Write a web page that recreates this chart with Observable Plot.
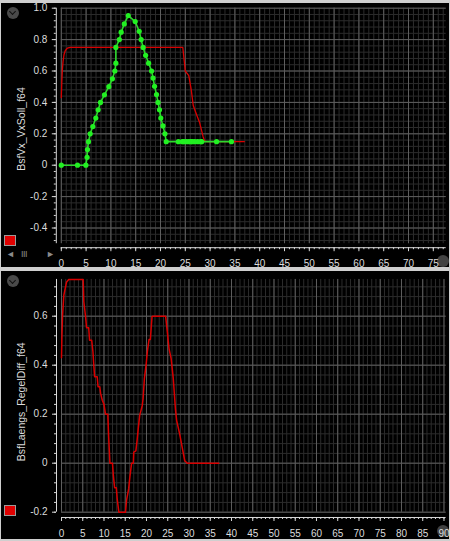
<!DOCTYPE html>
<html>
<head>
<meta charset="utf-8">
<script src="https://cdn.jsdelivr.net/npm/d3@7"></script>
<script src="https://cdn.jsdelivr.net/npm/@observablehq/plot@0.6"></script>
<style>
  html, body { margin: 0; padding: 0; background: #d0d0d0; }
  #root { position: relative; width: 450px; height: 541px; background: #cfcfcf; overflow: hidden; font-family: "Liberation Sans", Arial, sans-serif; }
  .panel { position: absolute; left: 1px; width: 448px; background: #000; }
  .panel svg { display: block; position: relative; z-index: 1; }
  .icon { position: absolute; width: 12px; height: 12px; border-radius: 50%; background: #4a4a4a; z-index: 2; }
  .icon::after { content: ""; position: absolute; left: 3.5px; top: 2.5px; width: 4px; height: 4px; border-right: 1.6px solid #111; border-bottom: 1.6px solid #111; transform: rotate(45deg); }
  .cicon { position: absolute; width: 12px; height: 12px; border-radius: 50%; background: rgba(110,110,110,0.6); z-index: 0; }
  .swatch { position: absolute; left: 4px; width: 10px; height: 9px; background: #e00000; border: 1px solid #9a9a9a; z-index: 2; }
  .scroll { position: absolute; top: 249px; font-size: 9px; color: #8a8a8a; z-index: 2; }
</style>
</head>
<body>
<div id="root">
  <div class="panel" id="p1" style="top:3px;height:264px;"></div>
  <div class="panel" id="p2" style="top:271px;height:268px;"></div>
</div>
<script>
// ---------- Top chart data ----------
const topLabel = "BsfVx_VxSoll_f64";
const topXDomain = [0, 77.6];
const topYDomain = [-0.5, 1.0];
const topXTicks = [0,5,10,15,20,25,30,35,40,45,50,55,60,65,70,75];
const topYTicks = [-0.4,-0.2,0,0.2,0.4,0.6,0.8,1.0];

const topRedX = [0,0.1,0.2,0.35,0.55,0.8,1.2,1.8,24.5,25.0,25.7,26.2,26.6,27.3,27.9,28.6,28.9,29.3,36.9];
const topRedY = [0.43,0.53,0.6,0.66,0.705,0.73,0.745,0.75,0.75,0.60,0.57,0.48,0.38,0.32,0.27,0.18,0.155,0.15,0.15];

const greenX = [0,3.27,4.95,5.2,5.28,5.48,5.82,6.36,6.96,7.43,7.9,8.7,9.58,10.3,10.8,11.0,11.0,11.7,12.07,12.7,13.5,14.9,15.7,16.1,16.5,17.0,17.6,18.2,18.5,18.8,19.2,19.5,19.8,20.06,20.5,20.9,21.15,23.6,24.4,24.7,25.2,25.7,26.1,26.4,26.9,27.5,28.1,28.3,31.3,34.3];
const greenY = [0,0,0,0.05,0.1,0.15,0.2,0.246,0.30,0.353,0.40,0.448,0.50,0.55,0.60,0.65,0.75,0.80,0.847,0.90,0.953,0.915,0.853,0.80,0.75,0.70,0.65,0.60,0.555,0.503,0.45,0.40,0.353,0.30,0.25,0.20,0.15,0.15,0.15,0.15,0.15,0.15,0.15,0.15,0.15,0.15,0.15,0.15,0.15,0.15];

// ---------- Bottom chart data ----------
const botLabel = "BsfLaengs_RegelDiff_f64";
const botXDomain = [0, 90.5];
const botYDomain = [-0.2, 0.75];
const botXTicks = [0,5,10,15,20,25,30,35,40,45,50,55,60,65,70,75,80,85,90];
const botYTicks = [-0.2,0,0.2,0.4,0.6];

const botRedX = [0,0.1,0.25,0.55,1.2,1.7,5.1,5.25,5.65,5.9,6.4,6.6,7.1,7.4,7.6,7.8,8.4,8.6,9.0,9.2,9.6,10.0,10.35,10.9,11.1,11.4,12.0,12.2,12.5,12.9,13.1,13.5,15.06,15.3,15.8,16.1,16.5,16.9,17.0,17.5,17.8,18.05,18.4,19.0,19.2,19.5,19.9,20.2,20.6,20.9,21.3,21.5,24.5,24.9,25.3,25.8,26.3,26.8,27.1,27.8,28.4,29.0,29.6,37.0];
const botRedY = [0.43,0.52,0.604,0.686,0.74,0.75,0.75,0.66,0.60,0.553,0.553,0.502,0.502,0.455,0.40,0.353,0.353,0.312,0.312,0.285,0.257,0.24,0.2,0.2,0.106,0,0,-0.05,-0.1,-0.1,-0.145,-0.2,-0.2,-0.152,-0.105,-0.054,0,0,0.045,0.05,0.095,0.14,0.195,0.235,0.264,0.345,0.40,0.455,0.505,0.505,0.598,0.60,0.60,0.536,0.468,0.427,0.346,0.223,0.174,0.12,0.065,0.01,0,0];

// ---------- helpers ----------
const fmtY = d => Math.abs(d) < 1e-9 ? "0" : d.toFixed(1);
const zip = (xs, ys) => xs.map((x, i) => ({x, y: ys[i]}));
const minorRange = (lo, hi, step) => {
  const out = [];
  const n0 = Math.ceil(lo / step - 1e-9), n1 = Math.floor(hi / step + 1e-9);
  for (let i = n0; i <= n1; i++) out.push(+(i * step).toFixed(6));
  return out;
};

function panel({width, height, mL, mR, mT, mB, xDomain, yDomain, xTicks, yTicks, yMinorStep, label, labelDy, axisDy, series}) {
  const xMinor = minorRange(xDomain[0], xDomain[1], 1);
  const yMinor = minorRange(yDomain[0], yDomain[1], yMinorStep);
  return Plot.plot({
    width, height,
    marginLeft: mL, marginRight: mR, marginTop: mT, marginBottom: mB,
    style: {background: "transparent", color: "#dcdcdc", fontFamily: "'Liberation Sans', Arial, sans-serif", fontSize: "10px", overflow: "visible"},
    x: {domain: xDomain, axis: null, label: null},
    y: {domain: yDomain, axis: null, label: null},
    marks: [
      Plot.ruleX(xMinor, {stroke: "#2c2c2c", strokeWidth: 1}),
      Plot.ruleY(yMinor, {stroke: "#2c2c2c", strokeWidth: 1}),
      Plot.ruleX(xTicks, {stroke: "#5e5e5e", strokeWidth: 1}),
      Plot.ruleY(yTicks, {stroke: "#5e5e5e", strokeWidth: 1}),
      // x axis
      Plot.ruleY([yDomain[0]], {dy: axisDy, stroke: "#d8d8d8", strokeWidth: 1}),
      Plot.axisX(xMinor, {anchor: "bottom", dy: axisDy, tickSize: 2, text: null, label: null, stroke: "#d8d8d8"}),
      Plot.axisX(xTicks, {anchor: "bottom", dy: axisDy, tickSize: 4, tickPadding: 8, label: null, stroke: "#d8d8d8", fill: "#dcdcdc", fontSize: 10, tickFormat: d => String(d)}),
      // y axis
      Plot.ruleX([xDomain[0]], {dx: -5, stroke: "#d8d8d8", strokeWidth: 1}),
      Plot.axisY(yMinor, {anchor: "left", dx: -5, tickSize: 2, text: null, label: null, stroke: "#d8d8d8"}),
      Plot.axisY(yTicks, {anchor: "left", dx: -5, tickSize: 4, tickPadding: 5, label: null, stroke: "#d8d8d8", fill: "#dcdcdc", fontSize: 10, tickFormat: fmtY}),
      Plot.text([label], {frameAnchor: "left", rotate: -90, dx: -40, dy: labelDy, fill: "#dcdcdc", fontSize: 10.5, textAnchor: "middle"}),
      ...series
    ]
  });
}

const topChart = panel({
  width: 448, height: 264, mL: 59.8, mR: 3.3, mT: 4.7, mB: 23.8,
  xDomain: topXDomain, yDomain: topYDomain, xTicks: topXTicks, yTicks: topYTicks,
  yMinorStep: 0.04, label: topLabel, labelDy: 3, axisDy: 4,
  series: [
    Plot.line(zip(topRedX, topRedY), {x: "x", y: "y", stroke: "#d80000", strokeWidth: 1.3}),
    Plot.line(zip(greenX, greenY), {x: "x", y: "y", stroke: "#2ed62e", strokeWidth: 1.6}),
    Plot.dot(zip(greenX, greenY), {x: "x", y: "y", r: 2.6, fill: "#22f022", stroke: "none"})
  ]
});

const botChart = panel({
  width: 448, height: 268, mL: 60, mR: 3.4, mT: 7.95, mB: 27.3,
  xDomain: botXDomain, yDomain: botYDomain, xTicks: botXTicks, yTicks: botYTicks,
  yMinorStep: 0.04, label: botLabel, labelDy: 6, axisDy: 5.3,
  series: [
    Plot.line(zip(botRedX, botRedY), {x: "x", y: "y", stroke: "#d80000", strokeWidth: 1.5})
  ]
});

// corner icons sit under the (transparent) chart svg
function addTo(parent, cls, style, text) {
  const el = document.createElement("div");
  el.className = cls;
  el.setAttribute("style", style);
  if (text) el.textContent = text;
  parent.appendChild(el);
  return el;
}
const p1 = document.getElementById("p1");
const p2 = document.getElementById("p2");
addTo(p1, "cicon", "left:436px;top:252px;");
addTo(p2, "cicon", "left:436px;top:254px;");
p1.appendChild(topChart);
p2.appendChild(botChart);

const root = document.getElementById("root");
addTo(root, "icon", "left:6.5px;top:6.5px;");
addTo(root, "icon", "left:6.5px;top:275px;");
addTo(root, "swatch", "top:234.5px;");
addTo(root, "swatch", "top:504.5px;");
addTo(root, "scroll", "left:6px;", "◄");
addTo(root, "scroll", "left:21px;letter-spacing:-0.5px;", "III");
addTo(root, "scroll", "left:46px;", "►");
</script>
</body>
</html>
